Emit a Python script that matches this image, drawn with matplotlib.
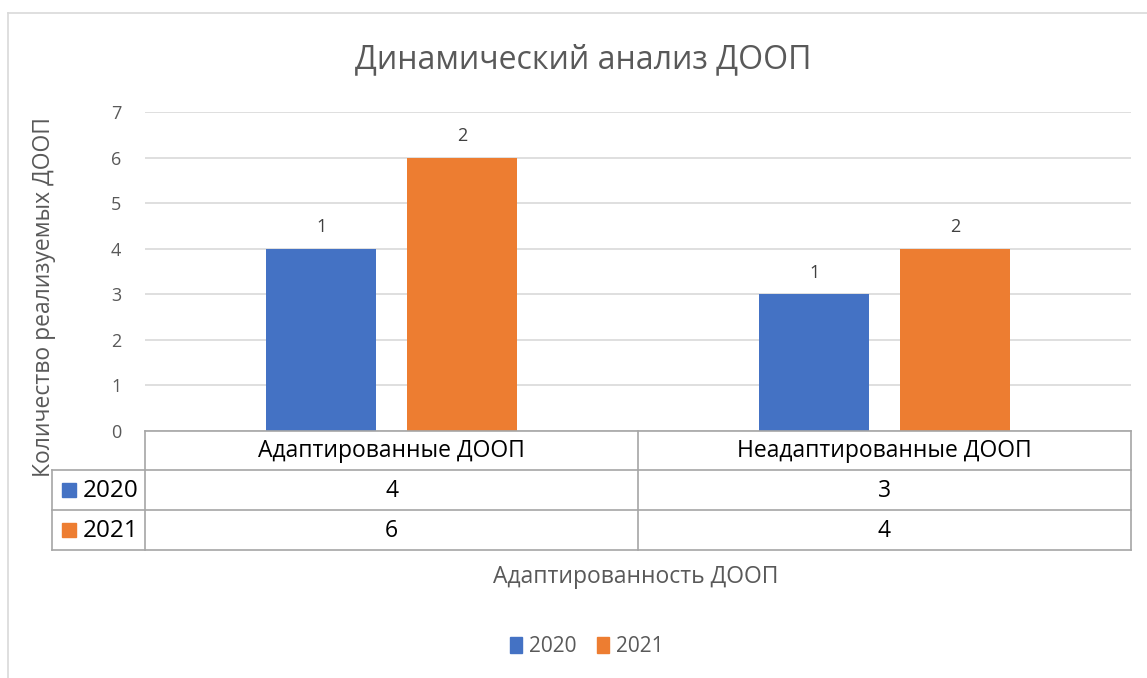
import matplotlib
matplotlib.use("Agg")
import matplotlib.pyplot as plt
from matplotlib.patches import Rectangle
from matplotlib.lines import Line2D

categories = ["Адаптированные ДООП", "Неадаптированные ДООП"]
series_names = ["2020", "2021"]
values_2020 = [4, 3]
values_2021 = [6, 4]
bar_labels_2020 = ["1", "1"]
bar_labels_2021 = ["2", "2"]
yticks = [0, 1, 2, 3, 4, 5, 6, 7]
title = "Динамический анализ ДООП"
ylabel = "Количество реализуемых ДООП"
xlabel = "Адаптированность ДООП"

colors = ["#4472C4", "#ED7D31"]
plt.rcParams['font.family'] = ['Open Sans', 'DejaVu Sans']

W, H = 1147, 678
fig = plt.figure(figsize=(W / 100, H / 100), dpi=100)

def fx(px):
    return px / W

def fy(py):
    return 1 - py / H

# outer chart frame
fig.add_artist(Line2D([fx(8), fx(1147)], [fy(13), fy(13)], color="#D9D9D9", lw=1.2))
fig.add_artist(Line2D([fx(8), fx(8)], [fy(13), fy(678)], color="#D9D9D9", lw=1.2))

ax = fig.add_axes([fx(145), fy(431), fx(1131) - fx(145), fy(112) - fy(431)])
x = range(len(categories))
off = 0.1425
bw = 0.223
b1 = ax.bar([i - off for i in x], values_2020, bw, color=colors[0], zorder=3)
b2 = ax.bar([i + off for i in x], values_2021, bw, color=colors[1], zorder=3)
ax.bar_label(b1, labels=bar_labels_2020, padding=9, fontsize=13, color="#404040")
ax.bar_label(b2, labels=bar_labels_2021, padding=9, fontsize=13, color="#404040")
ax.set_xlim(-0.5, 1.5)
ax.set_ylim(0, 7)
ax.set_yticks(yticks)
ax.set_yticklabels([str(t) for t in yticks], fontsize=13, color="#595959")
ax.tick_params(axis="y", length=0, pad=17)
ax.set_xticks([])
ax.yaxis.grid(True, color="#D9D9D9", lw=1.2, zorder=0)
for s in ax.spines.values():
    s.set_visible(False)

# title
fig.text(fx(583), fy(60), title, ha="center", va="center", fontsize=23, color="#595959")

# y label
fig.text(fx(44), fy(297), ylabel, ha="center", va="center", rotation=90, fontsize=16.5, color="#595959")

# x label
fig.text(fx(636), fy(577), xlabel, ha="center", va="center", fontsize=16.5, color="#595959")

# data table
tc = "#A6A6A6"
left_col = 52
col_edges = [145, 638, 1131]
row_edges = [431, 470, 510, 550]
fig.add_artist(Line2D([fx(145), fx(1131)], [fy(431), fy(431)], color=tc, lw=1.2))
for r in row_edges[1:]:
    fig.add_artist(Line2D([fx(left_col), fx(1131)], [fy(r), fy(r)], color=tc, lw=1.2))
fig.add_artist(Line2D([fx(left_col), fx(left_col)], [fy(470), fy(550)], color=tc, lw=1.2))
for c in col_edges:
    fig.add_artist(Line2D([fx(c), fx(c)], [fy(431), fy(550)], color=tc, lw=1.2))

for j, cat in enumerate(categories):
    cx = (col_edges[j] + col_edges[j + 1]) / 2
    fig.text(fx(cx), fy(451), cat, ha="center", va="center", fontsize=16.5, color="black")
    fig.text(fx(cx), fy(491), str(values_2020[j]), ha="center", va="center", fontsize=16.5, color="black")
    fig.text(fx(cx), fy(531), str(values_2021[j]), ha="center", va="center", fontsize=16.5, color="black")

for k, (nm, rc) in enumerate(zip(series_names, colors)):
    yc = (row_edges[k + 1] + row_edges[k + 2]) / 2
    fig.add_artist(Rectangle((fx(62), fy(yc + 7)), fx(14), fy(0) - fy(14),
                             transform=fig.transFigure, color=rc))
    fig.text(fx(83), fy(yc + 1), nm, ha="left", va="center", fontsize=17.5, color="black")

# legend
handles = [Rectangle((0, 0), 1, 1, color=c) for c in colors]
fig.legend(handles, series_names, loc="center", bbox_to_anchor=(fx(587), fy(647)),
           ncol=2, frameon=False, fontsize=15, handlelength=0.55, handleheight=0.8,
           handletextpad=0.35, columnspacing=1.0, labelcolor="#595959")

fig.savefig("out.png", dpi=100)
